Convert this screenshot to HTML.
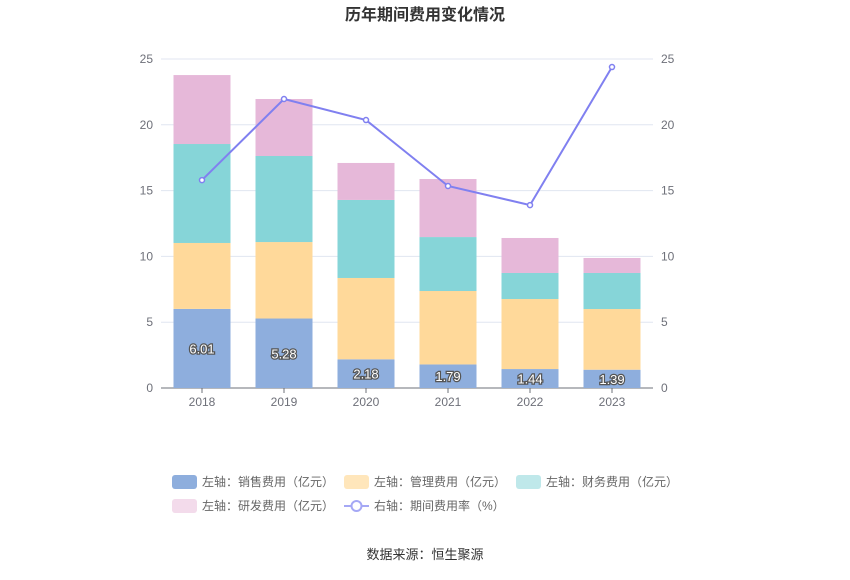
<!DOCTYPE html>
<html><head><meta charset="utf-8"><style>
body{margin:0;background:#fff;font-family:"Liberation Sans","Noto Sans CJK SC",sans-serif}
</style></head><body>
<svg id="c" width="850" height="575" xmlns="http://www.w3.org/2000/svg" font-family="Liberation Sans, Noto Sans CJK SC, sans-serif">
<text x="425" y="20" text-anchor="middle" font-size="16" font-weight="bold" fill="#333">历年期间费用变化情况</text>
<g id="grid"></g><g id="bars"></g><g id="line"></g><g id="axes"></g>
<g id="legend" font-size="12" fill="#666">
<g><rect x="172" y="475" width="25" height="14" rx="3" fill="#8eaedd"/><text x="202" y="486">左轴：销售费用（亿元）</text></g>
<g><rect x="344" y="475" width="25" height="14" rx="3" fill="#ffe6bb"/><text x="374" y="486">左轴：管理费用（亿元）</text></g>
<g><rect x="516" y="475" width="25" height="14" rx="3" fill="#bfe8ea"/><text x="546" y="486">左轴：财务费用（亿元）</text></g>
<g><rect x="172" y="499" width="25" height="14" rx="3" fill="#f3dbeb"/><text x="202" y="510">左轴：研发费用（亿元）</text></g>
<g><line x1="344" y1="506" x2="369" y2="506" stroke="#a5a8f5" stroke-width="2"/><circle cx="356.5" cy="506" r="5" fill="#fff" stroke="#a5a8f5" stroke-width="2"/><text x="374" y="510">右轴：期间费用率（%）</text></g>
</g>
<text x="425" y="559" text-anchor="middle" font-size="13" fill="#333">数据来源：恒生聚源</text>
</svg>
<script>
const years=["2018","2019","2020","2021","2022","2023"];
const sales=[6.01,5.28,2.18,1.79,1.44,1.39];
const admin=[5.01,5.81,6.18,5.58,5.32,4.61];
const finance=[7.52,6.54,5.93,4.10,1.98,2.74];
const rd=[5.24,4.33,2.81,4.41,2.66,1.14];
const rate=[15.8,21.96,20.36,15.35,13.9,24.39];
const ticks=[0,5,10,15,20,25];
const NS="http://www.w3.org/2000/svg";
const x0=161,x1=653,y0=388,y1=59;
const band=(x1-x0)/years.length;
const xc=i=>x0+band*(i+0.5);
const yL=v=>y0-(v/25)*(y0-y1);
const yR=v=>y0-(v/25)*(y0-y1);
function mk(t,a,p){const e=document.createElementNS(NS,t);for(const k in a)e.setAttribute(k,a[k]);p.appendChild(e);return e;}
const grid=document.getElementById('grid'),axes=document.getElementById('axes'),bars=document.getElementById('bars'),line=document.getElementById('line');
ticks.forEach(t=>{
 const g=mk('line',{x1:x0,x2:x1,y1:yL(t),y2:yL(t),stroke:t===0?'#6e7079':'#e0e6f1'},grid);
 
 
 const a=mk('text',{x:x0-8,y:yL(t)+4,'text-anchor':'end','font-size':12,fill:'#6e7079'},axes);a.textContent=t;
 
 
 const b=mk('text',{x:x1+8,y:yR(t)+4,'text-anchor':'start','font-size':12,fill:'#6e7079'},axes);b.textContent=t;
 
 
});
const series=[[sales,'#8eaedd','bar-sales'],[admin,'#ffd99a','bar-admin'],[finance,'#86d5d8','bar-finance'],[rd,'#e6b8d9','bar-rd']];
const bw=57;
years.forEach((y,i)=>{
 const tk=mk('line',{x1:xc(i),x2:xc(i),y1:y0,y2:y0+5,stroke:'#6e7079'},axes);
 
 
 const l=mk('text',{x:xc(i),y:y0+18,'text-anchor':'middle','font-size':12,fill:'#6e7079'},axes);l.textContent=y;
 
 
 let cum=0;
 series.forEach(([arr,col,nm])=>{
  const v=arr[i];
  const r=mk('rect',{x:xc(i)-bw/2,y:yL(cum+v),width:bw,height:yL(cum)-yL(cum+v),fill:col},bars);
  
  
  cum+=v;
 });
 const t=mk('text',{x:xc(i),y:(yL(0)+yL(sales[i]))/2+5,'text-anchor':'middle','font-size':13,fill:'#fff',stroke:'#555','stroke-width':2.5,'paint-order':'stroke'},bars);
 t.textContent=sales[i].toFixed(2);
 
 
});
const pl=mk('polyline',{points:rate.map((v,i)=>xc(i)+','+yR(v)).join(' '),fill:'none',stroke:'#8080f0','stroke-width':2},line);


rate.forEach((v,i)=>{
 const c=mk('circle',{cx:xc(i),cy:yR(v),r:2.5,fill:'#fff',stroke:'#8080f0','stroke-width':1.5},line);
 
 
});
</script>
</body></html>
